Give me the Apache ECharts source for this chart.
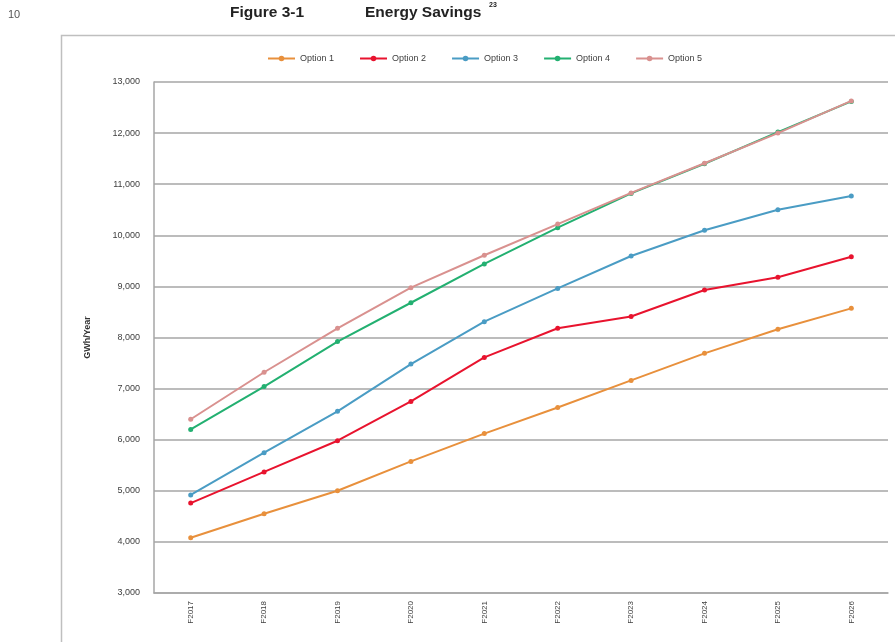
<!DOCTYPE html>
<html>
<head>
<meta charset="utf-8">
<script src="https://cdn.jsdelivr.net/npm/echarts@6/dist/echarts.min.js"></script>
<style>
html,body{margin:0;padding:0;background:#fff;}
#chart{width:895px;height:642px;}
</style>
</head>
<body>
<div id="chart"></div>
<script>
const categories = ['F2017','F2018','F2019','F2020','F2021','F2022','F2023','F2024','F2025','F2026'];
const option1 = [4080, 4550, 5000, 5575, 6120, 6630, 7160, 7690, 8160, 8570];
const option2 = [4760, 5370, 5980, 6750, 7610, 8180, 8410, 8930, 9180, 9580];
const option3 = [4920, 5745, 6555, 7480, 8310, 8960, 9595, 10100, 10500, 10770];
const option4 = [6200, 7040, 7920, 8680, 9440, 10150, 10820, 11400, 12020, 12620];
const option5 = [6400, 7320, 8180, 8975, 9610, 10220, 10830, 11410, 12000, 12630];
const seriesNames = ['Option 1','Option 2','Option 3','Option 4','Option 5'];
const seriesData = [option1, option2, option3, option4, option5];
const colors = ['#E8903C','#E8132E','#4A9CC4','#23B071','#D9918F'];

const chart = echarts.init(document.getElementById('chart'));
const font = '"Liberation Sans", Arial, sans-serif';

chart.setOption({
  animation: false,
  textStyle: {fontFamily: font},
  graphic: [
    {type:'rect', shape:{x:61.5, y:35.5, width:900, height:700}, style:{fill:'none', stroke:'#bfbfbf', lineWidth:1.5}},
    {type:'text', left:8, top:9, style:{text:'10', font:'11px ' + font, fill:'#555'}},
    {type:'text', left:230, top:5, style:{text:'Figure 3-1', font:'bold 15.5px ' + font, fill:'#222'}},
    {type:'text', left:365, top:5, style:{text:'Energy Savings', font:'bold 15.5px ' + font, fill:'#222'}},
    {type:'text', left:489, top:2, style:{text:'23', font:'bold 7px ' + font, fill:'#222'}}
  ],
  legend: {
    top: 49,
    left: 262,
    itemWidth: 27,
    itemHeight: 7,
    itemGap: 25,
    textStyle: {fontSize: 9, color: '#404040', fontFamily: font},
    data: seriesNames
  },
  grid: {left: 154, right: 7, top: 82, bottom: 49, containLabel: false},
  xAxis: {
    type: 'category',
    data: categories,
    boundaryGap: true,
    axisLine: {lineStyle: {color: '#a6a6a6', width: 1.5}},
    axisTick: {show: false},
    axisLabel: {rotate: 90, fontSize: 8, color: '#404040', margin: 8, fontFamily: font}
  },
  yAxis: {
    type: 'value',
    min: 3000,
    max: 13000,
    interval: 1000,
    name: 'GWh/Year',
    nameLocation: 'middle',
    nameRotate: 90,
    nameGap: 62,
    nameTextStyle: {fontSize: 9, fontWeight: 'bold', color: '#333', fontFamily: font},
    axisLine: {show: true, lineStyle: {color: '#a6a6a6', width: 1.5}},
    axisTick: {show: false},
    axisLabel: {
      fontSize: 9, color: '#404040', margin: 14, fontFamily: font,
      formatter: v => v.toLocaleString('en-US')
    },
    splitLine: {lineStyle: {color: '#a6a6a6', width: 1.5}}
  },
  series: seriesNames.map((n, i) => ({
    name: n,
    type: 'line',
    data: seriesData[i],
    color: colors[i],
    lineStyle: {width: 2},
    symbol: 'circle',
    symbolSize: 5,
    itemStyle: {color: colors[i]},
    z: 2 + i
  }))
});
</script>
</body>
</html>
